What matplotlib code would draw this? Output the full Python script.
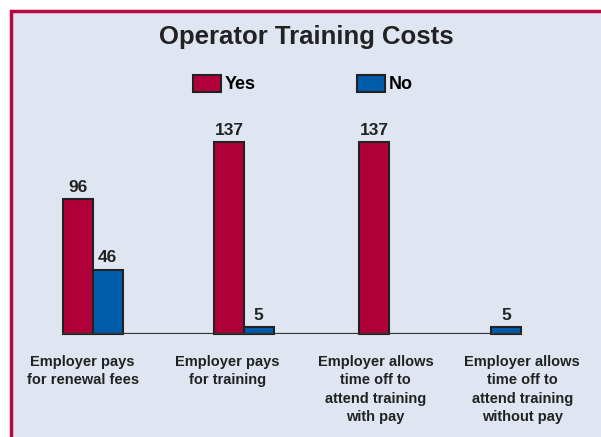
import matplotlib
matplotlib.use("Agg")
import matplotlib.pyplot as plt
import numpy as np
from matplotlib.patches import Rectangle, Patch

# Chart data
categories = [
    "Employer pays\nfor renewal fees",
    "Employer pays\nfor training",
    "Employer allows\ntime off to\nattend training\nwith pay",
    "Employer allows\ntime off to\nattend training\nwithout pay",
]
yes_vals = [96, 137, 137, 0]
no_vals = [46, 5, 0, 5]
series_names = ["Yes", "No"]

# Layout (the original spaces groups and labels a bit unevenly)
group_pos = np.array([0.0, 1.02, 2.0, 2.69])
label_pos = np.array([-0.07, 0.91, 1.91, 2.90])

# Style
yes_color = "#b0003a"
no_color = "#005bab"
bg_color = "#dfe5f1"
frame_color = "#b8083e"
edge_color = "#222222"
plt.rcParams["font.family"] = ["Liberation Sans", "DejaVu Sans"]
plt.rcParams["font.weight"] = "bold"

W, H = 601, 437
fig = plt.figure(figsize=(W / 100, H / 100), dpi=100)
fig.patch.set_facecolor("white")

# panel background with crimson frame (runs off the right and bottom edges)
fig.patches.append(Rectangle((11 / W, -0.05), 1.0, 1.05 - 11 / H,
                             transform=fig.transFigure, facecolor=bg_color,
                             edgecolor=frame_color, linewidth=2.5, zorder=-1))

# axes placed in pixel space: 148 px per unit, first group centred at 93 px
left_px, right_px = 30, 590
base_px, top_px = 334, 142
ax = fig.add_axes([left_px / W, (H - base_px) / H,
                   (right_px - left_px) / W, (base_px - top_px) / H])
ax.set_facecolor("none")
ax.set_xlim((left_px - 93) / 148, (right_px - 93) / 148)
ax.set_ylim(0, 137)
for s in ax.spines.values():
    s.set_visible(False)
ax.set_yticks([])

w = 0.2
bars_yes = ax.bar(group_pos - w / 2, yes_vals, w, color=yes_color, edgecolor=edge_color,
                  linewidth=1.5, clip_on=False, zorder=3)
bars_no = ax.bar(group_pos + w / 2, no_vals, w, color=no_color, edgecolor=edge_color,
                 linewidth=1.5, clip_on=False, zorder=3)
# hide zero-height bars, label the rest
for b, v in zip(list(bars_yes) + list(bars_no), yes_vals + no_vals):
    if v == 0:
        b.set_visible(False)
    else:
        ax.annotate(str(v), (b.get_x() + b.get_width() / 2, v),
                    xytext=(0, 3), textcoords="offset points",
                    ha="center", va="bottom", fontsize=12.5, fontweight="bold",
                    color="#222222")

# baseline
ax.hlines(0, group_pos[0] - w, group_pos[-1] + w, color="#333333", linewidth=1.6, zorder=4)

ax.set_xticks(label_pos)
ax.set_xticklabels(categories, fontsize=10.5, fontweight="bold", color="#222222",
                   linespacing=1.4)
ax.tick_params(axis="x", length=0, pad=15)

fig.text(306 / W, 1 - 37 / H, "Operator Training Costs", ha="center", va="center",
         fontsize=18.5, fontweight="bold", color="#222222")

handles = [Patch(facecolor=yes_color, edgecolor=edge_color, linewidth=1.5),
           Patch(facecolor=no_color, edgecolor=edge_color, linewidth=1.5)]
fig.legend(handles, series_names, loc="center", bbox_to_anchor=(303 / W, 1 - 84 / H),
           ncol=2, frameon=False, handlelength=1.55, handleheight=1.1,
           handletextpad=0.2, columnspacing=5.6, borderpad=0,
           prop={"weight": "bold", "size": 13})

fig.savefig("out.png", dpi=100, facecolor=fig.get_facecolor())
